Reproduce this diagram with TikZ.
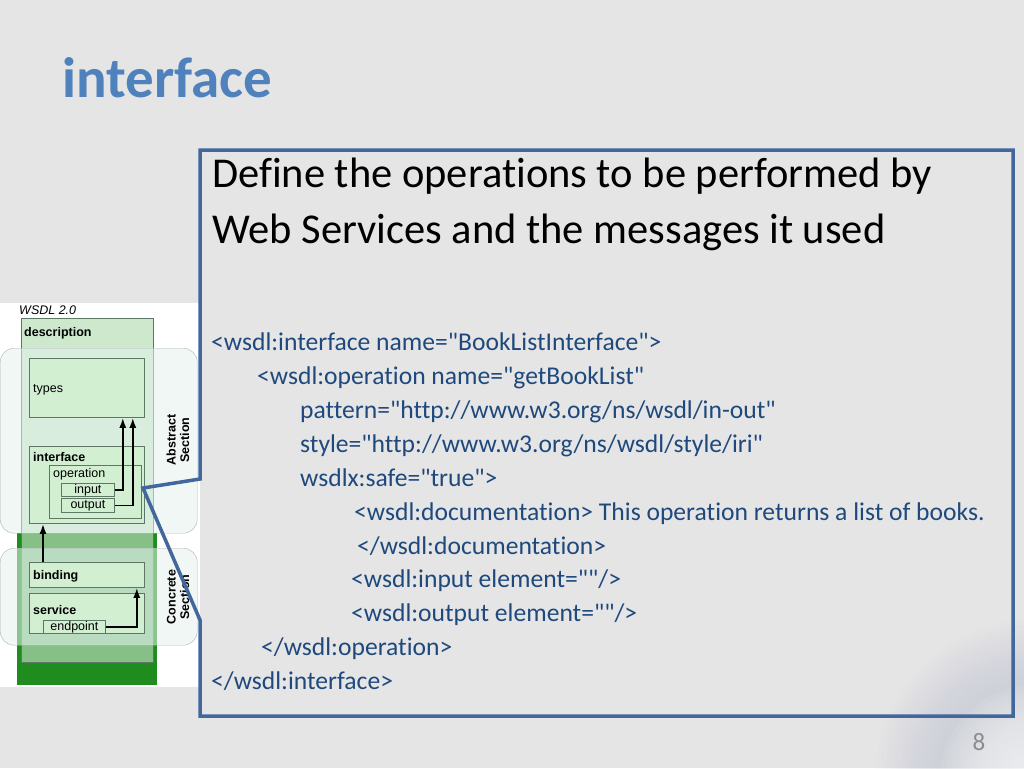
\documentclass[tikz,border=0pt]{standalone}
\usepackage{fontspec}
\setmainfont{Carlito}[Ligatures={TeXOff,NoCommon}]
\newfontfamily\arialfont{Liberation Sans}
\usetikzlibrary{positioning,calc,arrows.meta}
\definecolor{slidebg}{HTML}{E5E5E5}
\definecolor{titleblue}{HTML}{4F81BD}
\definecolor{calloutblue}{HTML}{41679C}
\definecolor{codeblue}{HTML}{1F497D}
\definecolor{boxgreen}{HTML}{D2EFD2}
\definecolor{descgreen}{HTML}{CDE8CD}
\definecolor{midgreen}{HTML}{86C086}
\definecolor{darkgreen}{HTML}{1F8C1F}
\definecolor{edgegrey}{HTML}{5C7763}
\definecolor{sectint}{HTML}{E4F2EE}
\definecolor{ringc}{HTML}{B8BECC}
\tikzset{
  wbox/.style={draw=edgegrey, fill=boxgreen, line width=0.8pt, inner sep=0pt, anchor=north west},
  wlabel/.style={font=\arialfont\fontsize{12.5}{12.5}\selectfont, inner sep=0pt, anchor=base west},
  wbold/.style={wlabel, font=\arialfont\bfseries\fontsize{12.5}{12.5}\selectfont},
  section/.style={draw=gray!60, fill=sectint, fill opacity=0.55, rounded corners=14pt, inner sep=0pt, anchor=north west},
  warrow/.style={-{Latex[length=10pt,width=7pt]}, line width=1.8pt},
  headline/.style={font=\fontsize{42.5}{42.5}\selectfont, inner sep=0pt, anchor=base west},
  codeline/.style={font=\fontsize{25.6}{25.6}\selectfont, text=codeblue, inner sep=0pt, anchor=base west},
}
\begin{document}
\begin{tikzpicture}[x=1pt, y=-1pt]
\useasboundingbox (0,0) rectangle (1024,768);
\fill[slidebg] (0,0) rectangle (1024,768);
% swirl in the corner
\begin{scope}
\clip (0,0) rectangle (1024,768);
\foreach \r in {160,155,...,100} \fill[ringc, opacity=0.04] (1035,780) circle (\r);
\foreach \r in {95,90,...,5} \fill[white, opacity=0.07] (1035,780) circle (\r);
\end{scope}

% title
\node [font=\bfseries\fontsize{57}{57}\selectfont, text=titleblue, inner sep=0pt, anchor=base west] (title) at (62,97) {interface};

% wsdl picture
\fill[white] (0,303) rectangle (200,687);
\fill[darkgreen] (17,533) rectangle (157,685);
\fill[descgreen] (21,318) rectangle (153,533);
\fill[midgreen] (21,533) rectangle (153,662);
\node [draw=edgegrey, line width=0.8pt, inner sep=0pt, anchor=north west, minimum width=132pt, minimum height=344pt] (desc) at (21,318) {};
\node [font=\arialfont\itshape\fontsize{12.5}{12.5}\selectfont, inner sep=0pt, anchor=base west] (wsdl) at (19,314) {WSDL 2.0};
\node [wbold] (desclabel) at (24,336) {description};
\node [section, minimum width=197pt, minimum height=185pt] (abstract) at (0,348) {};
\node [section, minimum width=197pt, minimum height=97pt] (concrete) at (0,548) {};

\node [wbox, minimum width=115pt, minimum height=59pt] (types) at (29,358) {};
\node [wlabel] (typeslabel) at (33,392) {types};
\node [wbox, minimum width=115pt, minimum height=77pt] (iface) at (29,446) {};
\node [wbold] (ifacelabel) at (33,461) {interface};
\node [wbox, minimum width=92pt, minimum height=53pt] (op) at (49,465) {};
\node [wlabel] (oplabel) at (53,477) {operation};
\node [wbox, minimum width=53pt, minimum height=13pt, font=\arialfont\fontsize{12.5}{12.5}\selectfont] (input) at (61,483) {input};
\node [wbox, minimum width=53pt, minimum height=14pt, font=\arialfont\fontsize{12.5}{12.5}\selectfont] (output) at (61,498) {output};
\node [wbox, minimum width=115pt, minimum height=25pt] (binding) at (29,562) {};
\node [wbold] (bindlabel) at (33,579) {binding};
\node [wbox, minimum width=115pt, minimum height=40pt] (service) at (29,593) {};
\node [wbold] (servlabel) at (33,614) {service};
\node [wbox, minimum width=62pt, minimum height=13pt, font=\arialfont\fontsize{12.5}{12.5}\selectfont] (endpoint) at (43,620) {endpoint};

\draw [warrow] (input.east) -| ([xshift=-22pt]types.south east);
\draw [warrow] (output.east) -| ([xshift=-12pt]types.south east);
\draw [warrow] ([xshift=14pt]binding.north west) -- ([xshift=14pt]iface.south west);
\draw [warrow] (endpoint.east) -| ([xshift=-8pt]binding.south east);

\node [font=\arialfont\bfseries\fontsize{12.5}{13.5}\selectfont, align=center, rotate=90, inner sep=0pt] (abslabel) at (178,440) {Abstract\\Section};
\node [font=\arialfont\bfseries\fontsize{12.5}{13.5}\selectfont, align=center, rotate=90, inner sep=0pt] (conlabel) at (178,597) {Concrete\\Section};

% callout
\draw[calloutblue, line width=3.5pt, line join=miter] (200,479) -- (200,150) -- (1013,150) -- (1013,716) -- (200,716) -- (200,620) -- (143,488) -- cycle;

\node [headline] (head1) at (212,187) {Define the operations to be performed by};
\node [headline] (head2) at (212,243) {Web Services and the messages it used};

\node [codeline] (code1) at (211,350) {<wsdl:interface name="BookListInterface">};
\node [codeline] (code2) at (257,384) {<wsdl:operation name="getBookList"};
\node [codeline] (code3) at (300,418) {pattern="http://www.w3.org/ns/wsdl/in-out"};
\node [codeline] (code4) at (300,452) {style="http://www.w3.org/ns/wsdl/style/iri"};
\node [codeline] (code5) at (300,486) {wsdlx:safe="true">};
\node [codeline] (code6) at (354,520) {<wsdl:documentation> This operation returns a list of books.};
\node [codeline] (code7) at (357,554) {</wsdl:documentation>};
\node [codeline] (code8) at (351,587) {<wsdl:input element=""/>};
\node [codeline] (code9) at (351,621) {<wsdl:output element=""/>};
\node [codeline] (code10) at (261,655) {</wsdl:operation>};
\node [codeline] (code11) at (211,689) {</wsdl:interface>};

\node [font=\fontsize{25}{25}\selectfont, text=gray!90, inner sep=0pt, anchor=base] (pagenum) at (979,750) {8};
\end{tikzpicture}
\end{document}
